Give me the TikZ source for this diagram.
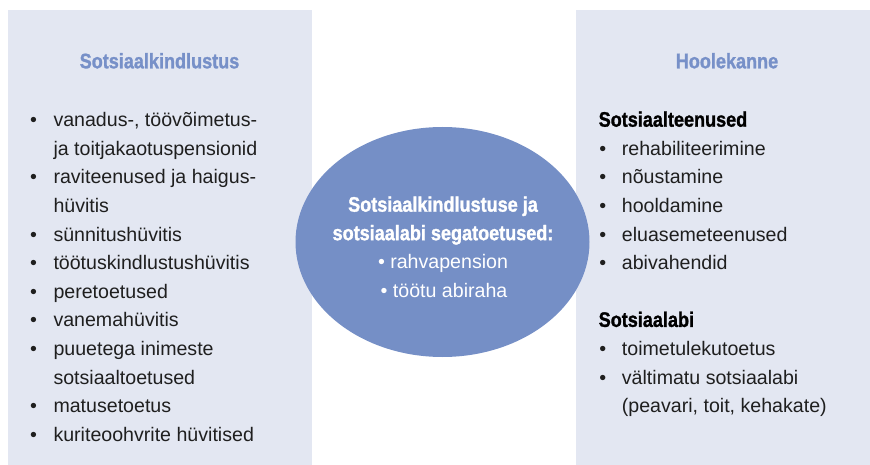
\documentclass[tikz,border=0pt]{standalone}
\usepackage{fontspec}
\setmainfont{Liberation Sans}
\newfontfamily\condfont[FakeStretch=0.86,BoldFeatures={FakeBold=1.3}]{Liberation Sans}
\definecolor{panelbg}{RGB}{227,231,242}
\definecolor{ellfill}{RGB}{117,143,198}
\definecolor{headblue}{RGB}{119,144,200}
\tikzset{
  body/.style={inner sep=0pt, anchor=base west, font=\fontsize{19.6}{28.6}\selectfont, text=black!88},
  bul/.style={inner sep=0pt, anchor=base, font=\fontsize{19.6}{28.6}\selectfont, text=black!88},
  head/.style={inner sep=0pt, anchor=base, font=\condfont\bfseries\fontsize{21}{28.6}\selectfont, text=headblue},
  subhead/.style={inner sep=0pt, anchor=base west, font=\condfont\bfseries\fontsize{21}{28.6}\selectfont, text=black},
  elltext/.style={inner sep=0pt, anchor=base, font=\condfont\bfseries\fontsize{21}{28.6}\selectfont, text=white},
  ellbody/.style={inner sep=0pt, anchor=base, font=\fontsize{19.6}{28.6}\selectfont, text=white},
}
\begin{document}
\begin{tikzpicture}[x=1pt,y=-1pt]
\useasboundingbox (0,0) rectangle (870,465);
% panels
\fill[panelbg] (8,10) rectangle (311.5,465);
\fill[panelbg] (575.5,10) rectangle (870,465);
% ellipse
\fill[ellfill] (442.5,242) ellipse [x radius=147, y radius=115];
\coordinate (ellc) at (442.5,242);

% left panel
\node[head] (lhead) at (159.5,68.3) {Sotsiaalkindlustus};
\node[bul] (lb0) at (33.5,126.7) {•};
\node[body] (l0) at (53.3,126.7) {vanadus-, töövõimetus-};
\node[body] (l1) at (53.3,155.3) {ja toitjakaotuspensionid};
\node[bul] (lb2) at (33.5,183.9) {•};
\node[body] (l2) at (53.3,183.9) {raviteenused ja haigus-};
\node[body] (l3) at (53.3,212.5) {hüvitis};
\node[bul] (lb4) at (33.5,241.1) {•};
\node[body] (l4) at (53.3,241.1) {sünnitushüvitis};
\node[bul] (lb5) at (33.5,269.7) {•};
\node[body] (l5) at (53.3,269.7) {töötuskindlustushüvitis};
\node[bul] (lb6) at (33.5,298.3) {•};
\node[body] (l6) at (53.3,298.3) {peretoetused};
\node[bul] (lb7) at (33.5,326.9) {•};
\node[body] (l7) at (53.3,326.9) {vanemahüvitis};
\node[bul] (lb8) at (33.5,355.5) {•};
\node[body] (l8) at (53.3,355.5) {puuetega inimeste};
\node[body] (l9) at (53.3,384.1) {sotsiaaltoetused};
\node[bul] (lb10) at (33.5,412.7) {•};
\node[body] (l10) at (53.3,412.7) {matusetoetus};
\node[bul] (lb11) at (33.5,441.3) {•};
\node[body] (l11) at (53.3,441.3) {kuriteoohvrite hüvitised};

% right panel
\node[head] (rhead) at (727,68.3) {Hoolekanne};
\node[subhead] (r0) at (598.5,126.7) {Sotsiaalteenused};
\node[bul] (rb1) at (602.7,155.3) {•};
\node[body] (r1) at (621.7,155.3) {rehabiliteerimine};
\node[bul] (rb2) at (602.7,183.9) {•};
\node[body] (r2) at (621.7,183.9) {nõustamine};
\node[bul] (rb3) at (602.7,212.5) {•};
\node[body] (r3) at (621.7,212.5) {hooldamine};
\node[bul] (rb4) at (602.7,241.1) {•};
\node[body] (r4) at (621.7,241.1) {eluasemeteenused};
\node[bul] (rb5) at (602.7,269.7) {•};
\node[body] (r5) at (621.7,269.7) {abivahendid};
\node[subhead] (r7) at (598.5,326.9) {Sotsiaalabi};
\node[bul] (rb8) at (602.7,355.5) {•};
\node[body] (r8) at (621.7,355.5) {toimetulekutoetus};
\node[bul] (rb9) at (602.7,384.1) {•};
\node[body] (r9) at (621.7,384.1) {vältimatu sotsiaalabi};
\node[body] (r10) at (621.7,412.7) {(peavari, toit, kehakate)};

% ellipse text
\node[elltext] (e1) at (443,211.7) {Sotsiaalkindlustuse ja};
\node[elltext] (e2) at (443,240.2) {sotsiaalabi segatoetused:};
\node[ellbody] (e3) at (443,268.5) {• rahvapension};
\node[ellbody] (e4) at (444,297) {• töötu abiraha};
\end{tikzpicture}
\end{document}
